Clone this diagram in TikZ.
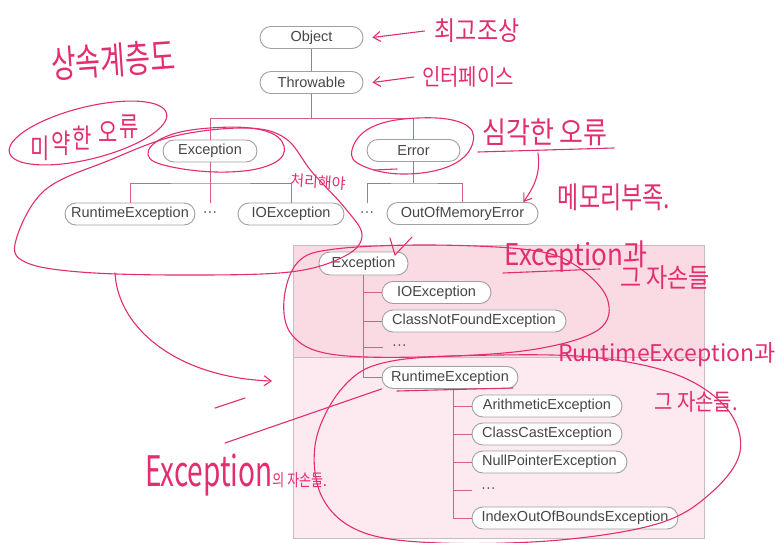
\documentclass[tikz,border=0pt]{standalone}
\usepackage{fontspec}
\usepackage{graphicx}
\setmainfont{Liberation Sans}
\newfontfamily\hw{Noto Sans CJK KR}
\usetikzlibrary{arrows.meta}
\definecolor{linkc}{RGB}{214,96,138}
\definecolor{nodeb}{RGB}{160,160,160}
\definecolor{txt}{RGB}{70,70,70}
\definecolor{handc}{RGB}{226,46,112}
\definecolor{boxup}{RGB}{250,219,227}
\definecolor{boxlo}{RGB}{253,234,240}
\definecolor{boxb}{RGB}{200,190,194}
\newcommand{\hwtall}[2][1.3]{\scalebox{1}[#1]{#2}}
\begin{document}
\begin{tikzpicture}[x=1pt,y=-1pt,
 cls/.style={draw=nodeb, line width=0.9pt, fill=white, rounded corners=11pt, minimum height=22pt, inner xsep=4pt, inner ysep=0pt, text=txt, font=\fontsize{14.5}{16}\selectfont},
 dotn/.style={minimum height=22pt, inner xsep=0pt, inner ysep=0pt, text=txt, font=\fontsize{14.5}{16}\selectfont},
 link/.style={draw=linkc, line width=1pt},
 hand/.style={draw=handc, line width=1.1pt, line cap=round, line join=round},
 handt/.style={text=handc, inner sep=0pt, font=\hw\fontsize{#1}{#1}\selectfont},
 handarrow/.style={hand, -{Straight Barb[length=7pt,width=10pt]}}
]
\useasboundingbox (0,0) rectangle (779,543);
\fill[white] (0,0) rectangle (779,543);

% pink box
\fill[boxup] (293,245) rectangle (704,357);
\fill[boxlo] (293,357) rectangle (704,538);
\draw[boxb, line width=0.9pt] (293,245) rectangle (704,538);
\draw[boxb, line width=0.9pt] (293,357) -- (704,357);

% top tree
\node[cls, minimum width=103pt] (obj) at (311.5,37.5) {Object};
\node[cls, minimum width=103pt] (thr) at (311.5,82.5) {Throwable};
\node[cls, minimum width=94pt] (exc) at (210,151) {Exception};
\node[cls, minimum width=93pt] (err) at (413.5,150.5) {Error};
\node[cls, minimum width=130pt] (rte) at (130,214) {RuntimeException};
\node[dotn] (dots1) at (210,214) {···};
\node[cls, minimum width=106pt] (ioe) at (291,214) {IOException};
\node[dotn] (dots2) at (367,214) {···};
\node[cls, minimum width=151pt] (oom) at (462.5,213.5) {OutOfMemoryError};

\coordinate (j0) at (311.5,118);
\coordinate (j1) at (210,183);
\coordinate (j2) at (413.5,183);
\draw[link] (obj) -- (thr);
\draw[link] (thr) -- (j0);
\draw[link] (exc.north) -- (exc.north |- j0) -- (err.north |- j0) -- (err.north);
\draw[link] (exc.south) -- (dots1.north);
\draw[link] (rte.north) |- (j1) -| (ioe.north);
\draw[link] (err.south) -- (j2);
\draw[link] (dots2.north) |- (j2) -| (oom.north);

% inner tree
\node[cls, minimum width=89pt, minimum height=23pt] (iexc) at (363.5,263.5) {Exception};
\node[cls, minimum width=109pt] (iio) at (436.5,292.5) {IOException};
\node[cls, minimum width=184pt] (icnf) at (474,321) {ClassNotFoundException};
\node[dotn, anchor=west, inner xsep=9pt] (idots1) at (383,347) {···};
\node[cls, minimum width=136pt] (irte) at (450,377.5) {RuntimeException};
\node[cls, minimum width=150pt] (iar) at (547,406) {ArithmeticException};
\node[cls, minimum width=150pt] (icc) at (547,434) {ClassCastException};
\node[cls, minimum width=155pt] (inp) at (549.5,462) {NullPointerException};
\node[dotn, anchor=west, inner xsep=9pt] (idots2) at (472,490) {···};
\node[cls, minimum width=206pt] (iiob) at (575,518) {IndexOutOfBoundsException};

\draw[link] (iexc.south) |- (irte.west);
\foreach \n in {iio,icnf,idots1} \draw[link] (iexc.south |- \n.west) -- (\n.west);
\draw[link] ([xshift=3pt]irte.south) |- (iiob.west);
\foreach \n in {iar,icc,inp,idots2} \draw[link] ([xshift=3pt]irte.south |- \n.west) -- (\n.west);

% handwritten annotations
\node[handt=27, rotate=4] (h1) at (113,60) {\hwtall[1.4]{상속계층도}};
\node[handt=21] (h2a) at (40,148) {\hwtall{미}};
\node[handt=21] (h2b) at (61,143) {\hwtall{약}};
\node[handt=21] (h2c) at (82,138) {\hwtall{한}};
\node[handt=21] (h2d) at (108,132) {\hwtall{오}};
\node[handt=21] (h2e) at (129,127) {\hwtall{류}};
\draw[hand, rotate around={14:(88,133)}] (88,133) ellipse [x radius=81, y radius=26];

\node[handt=23] (h3) at (477,31) {\hwtall[1.15]{최고조상}};
\draw[handarrow] ([xshift=-10pt]h3.west) -- ([xshift=9pt]obj.east);
\node[handt=20] (h4) at (468,77) {\hwtall[1.15]{인터페이스}};
\draw[handarrow] ([xshift=-8pt]h4.west) -- ([xshift=9pt]thr.east);

\node[handt=26] (h5) at (545,132) {\hwtall[1.15]{심각한 오류}};
\draw[hand] (478,152) -- (614,148);
\draw[handarrow] (538,153) .. controls (541,175) and (533,188) .. ([xshift=-15pt]oom.north east);
\node[handt=23] (h6) at (614,197) {\hwtall{메모리부족.}};

\node[handt=15, rotate=-4] (h7) at (318,182) {처리해야};

\draw[hand] plot[smooth cycle, tension=0.7] coordinates {(148,155) (165,137) (210,128) (262,130) (284,146) (272,164) (228,172) (172,167)};
\draw[hand] plot[smooth cycle, tension=0.6] coordinates {(16,240) (45,190) (110,160) (175,136) (245,128) (285,138) (312,172) (345,208) (362,235) (345,256) (290,272) (180,275) (80,272) (25,262)};
\draw[hand] plot[smooth cycle, tension=0.7] coordinates {(352,150) (372,127) (418,118) (462,123) (473,142) (452,165) (405,174) (363,166)};
\draw[hand] (374,170) -- (397,169);
\draw[handarrow] (115,273) .. controls (118,330) and (180,378) .. (272,381);
\draw[hand] (390,238) -- (395,255) -- (412,237);

\node[handt=26] (h8) at (576,257) {\hwtall[1.15]{Exception과}};
\node[handt=23] (h9) at (665,278) {\hwtall[1.15]{그 자손들}};
\draw[hand] (503,273) -- (600,269);
\draw[hand] plot[smooth cycle, tension=0.6] coordinates {(284,300) (298,262) (335,249) (430,245) (530,250) (575,265) (607,298) (598,330) (530,350) (420,357) (330,354) (292,335)};

\node[handt=23] (h10) at (667,355) {RuntimeException과};
\node[handt=20] (h11) at (696,402) {\hwtall[1.15]{그 자손들.}};
\draw[hand] plot[smooth cycle, tension=0.6] coordinates {(392,361) (345,385) (316,440) (322,497) (362,532) (440,543) (560,540) (660,523) (712,492) (740,452) (728,410) (680,376) (600,358) (500,355)};
\draw[hand] (397,391) -- (513,388);

\node[handt=28, anchor=west] (h12) at (145,475) {\hwtall[1.5]{Exception}{\fontsize{13}{13}\selectfont\hwtall{의 자손들.}}};
\draw[hand] (225,443) -- (irte.south west);
\draw[hand] (215,408) -- (245,398);
\end{tikzpicture}
\end{document}
